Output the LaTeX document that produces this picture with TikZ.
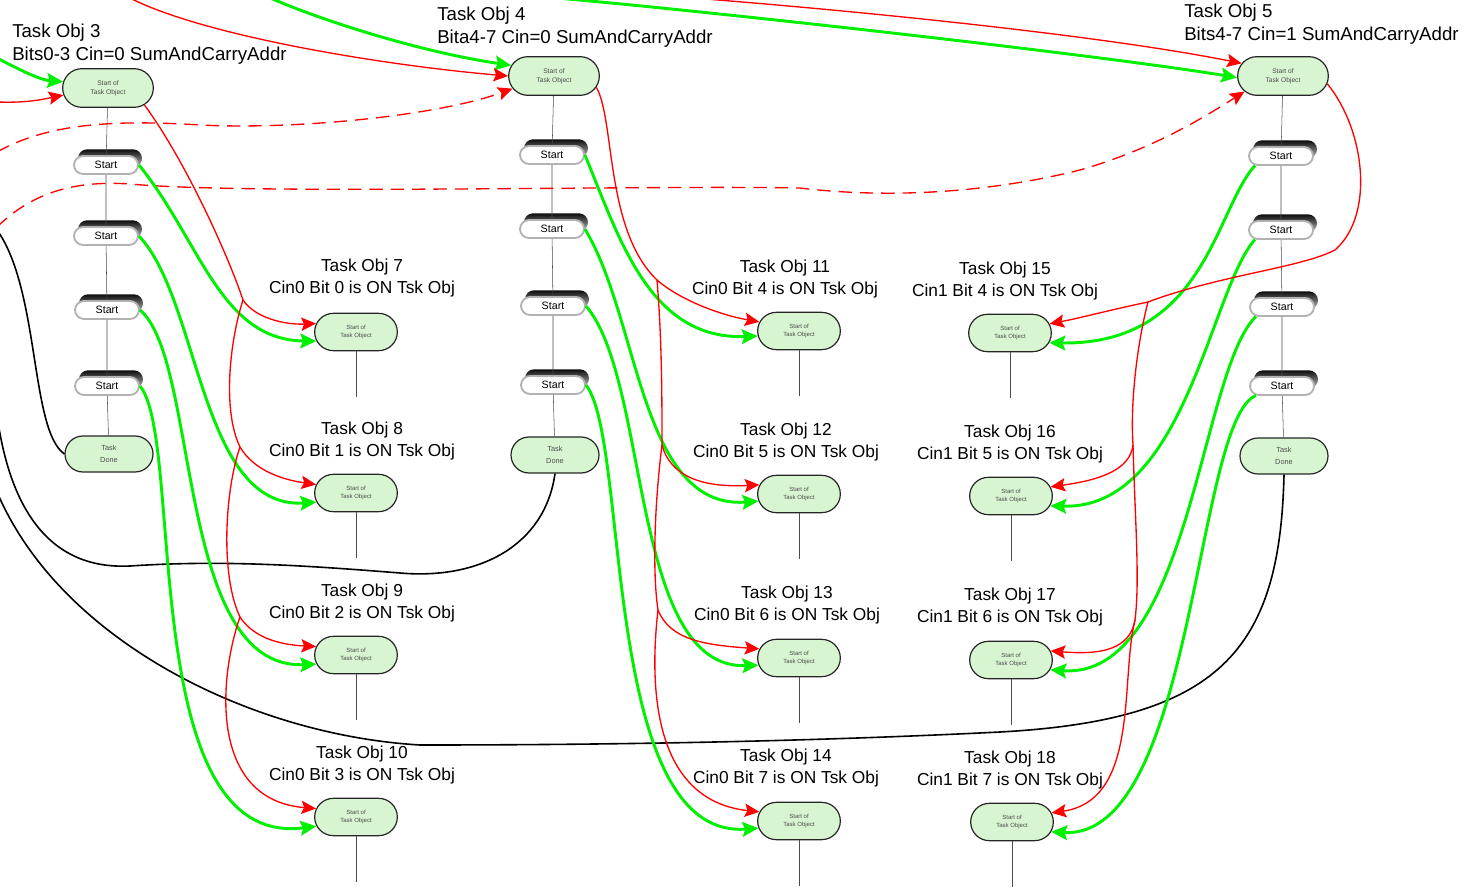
\documentclass[tikz,border=0pt]{standalone}
\usepackage{fontspec}
\setmainfont{Liberation Sans}
\usetikzlibrary{positioning, arrows.meta, shapes.misc, shadows}

\definecolor{boxgreen}{RGB}{214,245,208}
\definecolor{linegreen}{RGB}{0,240,0}

\begin{document}
\begin{tikzpicture}[
    x=0.75pt, y=-0.75pt,
    tobj/.style={rounded rectangle, draw=black!85, line width=0.9pt, fill=boxgreen, minimum width=64pt, minimum height=28pt, inner sep=1pt, font=\fontsize{4.5}{5.5}\selectfont, text=black!70, align=center},
    srcobj/.style={tobj, minimum width=70pt, minimum height=29pt, font=\fontsize{5}{6.5}\selectfont},
    donebox/.style={tobj, minimum width=68pt, minimum height=27pt, font=\fontsize{5.5}{9}\selectfont},
    startbox/.style={rounded rectangle, draw=black!30, line width=1.4pt, fill=white, minimum width=50pt, minimum height=13.5pt, inner sep=1pt, font=\fontsize{8}{9}\selectfont,
        general shadow={top color=black!95, bottom color=black!25, shadow xshift=3pt, shadow yshift=5pt}},
    lbl/.style={font=\fontsize{13}{16.5}\selectfont, align=center, inner sep=0pt},
    toplbl/.style={lbl, font=\fontsize{14}{17}\selectfont, align=left, anchor=west},
    stem/.style={draw=black!70, line width=0.4pt},
    stub/.style={draw=black!70, line width=0.5pt},
    grn/.style={draw=linegreen, line width=2.2pt, -{Stealth[length=12pt, width=11pt, inset=2pt]}},
    rd/.style={draw=red, line width=1pt},
    rdarr/.style={rd, -{Stealth[length=11pt, width=10pt, inset=2pt]}},
    rdash/.style={rdarr, dash pattern=on 10pt off 6pt},
    blk/.style={draw=black, line width=1.2pt},
]
\useasboundingbox (0,0) rectangle (1479,891);

% Task Obj 3 column
\node[srcobj] (s3) at (108,88) {Start of\\Task Object};
\node[startbox] (s3a) at (106,165) {Start};
\node[startbox] (s3b) at (106,236) {Start};
\node[startbox] (s3c) at (107,310) {Start};
\node[startbox] (s3d) at (107,386) {Start};
\node[donebox] (d3) at (109,454) {Task\\Done};
\node[toplbl] (l3) at (12,44) {Task Obj 3\\Bits0-3 Cin=0 SumAndCarryAddr};
\draw[stem] (s3) -- (s3a) -- (s3b) -- (s3c) -- (s3d) -- (d3);

% Task Obj 4 column
\node[srcobj] (s4) at (554,76) {Start of\\Task Object};
\node[startbox] (s4a) at (552,155) {Start};
\node[startbox] (s4b) at (552,229) {Start};
\node[startbox] (s4c) at (553,306) {Start};
\node[startbox] (s4d) at (553,385) {Start};
\node[donebox] (d4) at (555,455) {Task\\Done};
\node[toplbl] (l4) at (437,27) {Task Obj 4\\Bita4-7 Cin=0 SumAndCarryAddr};
\draw[stem] (s4) -- (s4a) -- (s4b) -- (s4c) -- (s4d) -- (d4);

% Task Obj 5 column
\node[srcobj] (s5) at (1283,76) {Start of\\Task Object};
\node[startbox] (s5a) at (1281,156) {Start};
\node[startbox] (s5b) at (1281,230) {Start};
\node[startbox] (s5c) at (1282,307) {Start};
\node[startbox] (s5d) at (1282,386) {Start};
\node[donebox] (d5) at (1284,456) {Task\\Done};
\node[toplbl] (l5) at (1184,24) {Task Obj 5\\Bits4-7 Cin=1 SumAndCarryAddr};
\draw[stem] (s5) -- (s5a) -- (s5b) -- (s5c) -- (s5d) -- (d5);

% bit task objects, Cin0 bits 0-3
\node[tobj] (t7) at (356,332) {Start of\\Task Object};
\node[tobj] (t8) at (356,493) {Start of\\Task Object};
\node[tobj] (t9) at (356,655) {Start of\\Task Object};
\node[tobj] (t10) at (356,817) {Start of\\Task Object};
\node[lbl] (l7) at (362,278) {Task Obj 7\\Cin0 Bit 0 is ON Tsk Obj};
\node[lbl] (l8) at (362,441) {Task Obj 8\\Cin0 Bit 1 is ON Tsk Obj};
\node[lbl] (l9) at (362,603) {Task Obj 9\\Cin0 Bit 2 is ON Tsk Obj};
\node[lbl] (l10) at (362,765) {Task Obj 10\\Cin0 Bit 3 is ON Tsk Obj};

% bit task objects, Cin0 bits 4-7
\node[tobj] (t11) at (799,331) {Start of\\Task Object};
\node[tobj] (t12) at (799,494) {Start of\\Task Object};
\node[tobj] (t13) at (799,658) {Start of\\Task Object};
\node[tobj] (t14) at (799,821) {Start of\\Task Object};
\node[lbl] (l11) at (785,279) {Task Obj 11\\Cin0 Bit 4 is ON Tsk Obj};
\node[lbl] (l12) at (786,442) {Task Obj 12\\Cin0 Bit 5 is ON Tsk Obj};
\node[lbl] (l13) at (787,605) {Task Obj 13\\Cin0 Bit 6 is ON Tsk Obj};
\node[lbl] (l14) at (786,768) {Task Obj 14\\Cin0 Bit 7 is ON Tsk Obj};

% bit task objects, Cin1 bits 4-7
\node[tobj] (t15) at (1010,333) {Start of\\Task Object};
\node[tobj] (t16) at (1011,496) {Start of\\Task Object};
\node[tobj] (t17) at (1011,660) {Start of\\Task Object};
\node[tobj] (t18) at (1012,822) {Start of\\Task Object};
\node[lbl] (l15) at (1005,281) {Task Obj 15\\Cin1 Bit 4 is ON Tsk Obj};
\node[lbl] (l16) at (1010,444) {Task Obj 16\\Cin1 Bit 5 is ON Tsk Obj};
\node[lbl] (l17) at (1010,607) {Task Obj 17\\Cin1 Bit 6 is ON Tsk Obj};
\node[lbl] (l18) at (1010,770) {Task Obj 18\\Cin1 Bit 7 is ON Tsk Obj};

\foreach \t in {t7,t8,t9,t10,t11,t12,t13,t14,t15,t16,t17,t18}
    \draw[stub] (\t.south) -- +(0,46);

% loose ends off the page
\coordinate (inG3) at (-3,58);
\coordinate (inR3) at (-3,102);
\coordinate (inR4) at (128,-3);
\coordinate (inG4) at (268,-3);
\coordinate (inD4) at (-3,152);
\coordinate (inD5) at (-3,227);
\coordinate (inG5) at (545,-3);
\coordinate (inR5) at (680,-3);
\coordinate (outB3) at (-3,230);
\coordinate (outB4) at (-3,415);
\coordinate (outB5) at (-3,492);

% into the three adders
\draw[grn] (inG3) .. controls (20,70) and (40,80) .. (s3.172);
\draw[rdarr] (inR3) .. controls (25,103) and (40,100) .. (s3.189);
\draw[grn] (inG4) .. controls (320,20) and (420,52) .. (s4.166);
\draw[rdarr] (inR4) .. controls (200,35) and (380,65) .. (s4.180);
\draw[rdash] (inD4) .. controls (50,122) and (120,120) .. (200,125) .. controls (300,130) and (440,115) .. (s4.197);
\draw[grn] (inG5) .. controls (700,10) and (1100,55) .. (s5.182);
\draw[rdarr] (inR5) .. controls (850,10) and (1100,35) .. (s5.163);
\draw[rdash] (inD5) .. controls (30,195) and (70,180) .. (130,184) .. controls (250,195) and (650,185) .. (800,188) .. controls (900,200) and (1000,190) .. (1080,170) .. controls (1150,150) and (1200,120) .. (s5.202);

% task done lines
\draw[blk] (d3.west) .. controls (30,430) and (40,290) .. (outB3);
\draw[blk] (d4.south) .. controls (545,545) and (480,580) .. (400,573) .. controls (300,565) and (220,560) .. (130,566) .. controls (50,570) and (10,510) .. (outB4);
\draw[blk] (d5.south) .. controls (1280,650) and (1220,720) .. (1000,732) .. controls (800,742) and (600,745) .. (420,745) .. controls (250,735) and (60,640) .. (outB5);

% Cin0 bits 0-3
\draw[grn] (s3a.east) .. controls (200,240) and (220,340) .. (t7.193);
\draw[grn] (s3b.east) .. controls (200,300) and (200,510) .. (t8.193);
\draw[grn] (s3c.east) .. controls (200,360) and (175,670) .. (t9.193);
\draw[grn] (s3d.east) .. controls (185,440) and (135,850) .. (t10.193);
\coordinate (j3a) at (243,300);
\coordinate (j3b) at (240,447);
\coordinate (j3c) at (240,617);
\draw[rd] (s3.335) .. controls (185,160) and (228,255) .. (j3a);
\draw[rdarr] (j3a) .. controls (255,318) and (285,325) .. (t7.168);
\draw[rd] (j3a) .. controls (230,340) and (222,410) .. (j3b);
\draw[rdarr] (j3b) .. controls (255,472) and (285,480) .. (t8.168);
\draw[rd] (j3b) .. controls (225,490) and (220,575) .. (j3c);
\draw[rdarr] (j3c) .. controls (255,640) and (285,645) .. (t9.168);
\draw[rdarr] (j3c) .. controls (218,680) and (210,800) .. (t10.168);

% Cin0 bits 4-7
\draw[grn] (s4a.east) .. controls (620,240) and (650,340) .. (t11.187);
\draw[grn] (s4b.east) .. controls (640,320) and (640,510) .. (t12.190);
\draw[grn] (s4c.east) .. controls (650,380) and (630,670) .. (t13.190);
\draw[grn] (s4d.east) .. controls (630,440) and (600,840) .. (t14.190);
\coordinate (j4a) at (657,280);
\coordinate (j4b) at (662,445);
\coordinate (j4c) at (658,610);
\draw[rd] (s4.345) .. controls (615,120) and (605,230) .. (j4a);
\draw[rdarr] (j4a) .. controls (680,300) and (720,315) .. (t11.167);
\draw[rd] (j4a) .. controls (662,340) and (662,400) .. (j4b);
\draw[rdarr] (j4b) .. controls (670,475) and (700,488) .. (t12.167);
\draw[rd] (j4b) .. controls (655,500) and (652,570) .. (j4c);
\draw[rdarr] (j4c) .. controls (670,640) and (705,645) .. (t13.167);
\draw[rdarr] (j4c) .. controls (650,680) and (650,800) .. (t14.167);

% Cin1 bits 4-7
\draw[grn] (s5a.200) .. controls (1215,210) and (1205,345) .. (t15.346);
\draw[grn] (s5b.200) .. controls (1210,290) and (1185,510) .. (t16.346);
\draw[grn] (s5c.200) .. controls (1200,370) and (1190,680) .. (t17.346);
\draw[grn] (s5d.200) .. controls (1195,420) and (1195,840) .. (t18.346);
\coordinate (j5a) at (1148,302);
\coordinate (j5b) at (1133,445);
\coordinate (j5c) at (1135,620);
\draw[rd] (s5.350) .. controls (1365,130) and (1375,215) .. (1335,250) .. controls (1300,268) and (1220,275) .. (j5a);
\draw[rdarr] (j5a) .. controls (1110,310) and (1080,318) .. (t15.13);
\draw[rd] (j5a) .. controls (1138,340) and (1130,400) .. (j5b);
\draw[rdarr] (j5b) .. controls (1130,470) and (1100,480) .. (t16.13);
\draw[rd] (j5b) .. controls (1135,520) and (1140,580) .. (j5c);
\draw[rdarr] (j5c) .. controls (1130,650) and (1100,655) .. (t17.13);
\draw[rdarr] (j5c) .. controls (1120,680) and (1140,800) .. (t18.13);

\end{tikzpicture}
\end{document}
